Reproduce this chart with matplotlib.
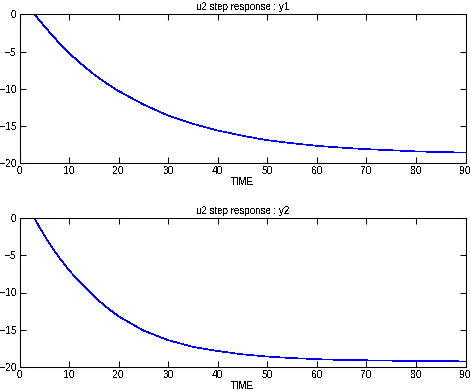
import matplotlib
matplotlib.use("Agg")
import matplotlib.pyplot as plt

time = [0, 3, 4, 5, 6, 8, 10, 12, 15, 17.5, 20, 25, 30, 35, 40, 45, 50, 55, 60, 65, 70, 75, 80, 85, 90]
y1 = [0, 0, -0.8, -1.6, -2.35, -3.85, -5.2, -6.4, -8.05, -9.25, -10.3, -12.1, -13.6, -14.7, -15.6, -16.3, -16.9, -17.3, -17.65, -17.9, -18.1, -18.25, -18.4, -18.5, -18.55]
y2 = [0, 0, -1.2, -2.3, -3.4, -5.3, -7.0, -8.5, -10.5, -11.95, -13.2, -15.1, -16.4, -17.3, -17.85, -18.3, -18.6, -18.8, -18.95, -19.05, -19.1, -19.15, -19.2, -19.2, -19.25]
titles = ["u2 step response : y1", "u2 step response : y2"]
xlabel = "TIME"
xticks = [0, 10, 20, 30, 40, 50, 60, 70, 80, 90]
yticks = [0, -5, -10, -15, -20]

plt.rcParams['font.family'] = ['Liberation Sans', 'DejaVu Sans']
plt.rcParams['lines.antialiased'] = False
plt.rcParams['text.antialiased'] = False

W, H = 471, 391
fig = plt.figure(figsize=(W / 100, H / 100), dpi=100)

def px_axes(l, t, r, b):
    return fig.add_axes([l / W, 1 - b / H, (r - l) / W, (b - t) / H])

boxes = [(19.5, 14.3, 465.5, 163.3), (19.5, 218, 465.5, 367)]
for box, ys, title in zip(boxes, [y1, y2], titles):
    ax = px_axes(*box)
    ax.plot(time, ys, color='#0000ff', linewidth=0.45)
    ax.set_xlim(0, 90)
    ax.set_ylim(-20, 0)
    ax.set_xticks(xticks)
    ax.set_yticks(yticks)
    ax.tick_params(direction='in', top=True, right=True, length=4, width=0.75,
                   labelsize=7.5, pad=2, colors='black')
    for s in ax.spines.values():
        s.set_linewidth(0.75)
    ax.set_title(title, fontsize=7, pad=3)
    ax.set_xlabel(xlabel, fontsize=7, labelpad=1)

fig.savefig("out.png", dpi=100)
